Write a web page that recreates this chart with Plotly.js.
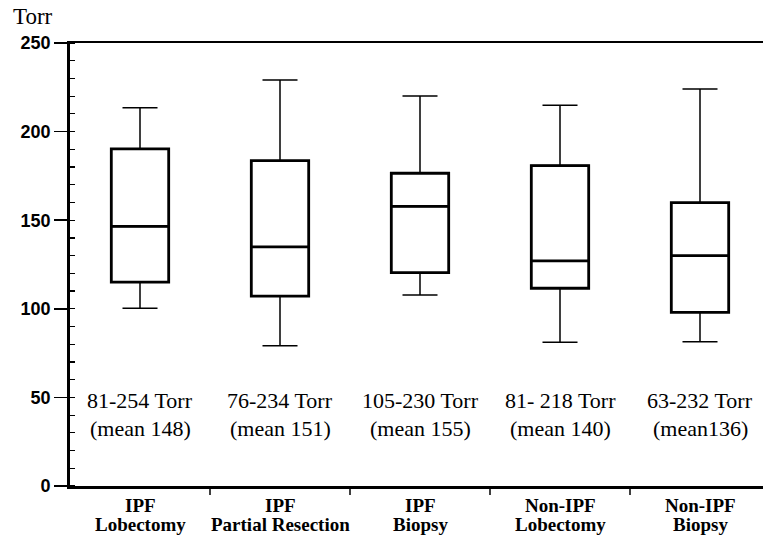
<!DOCTYPE html>
<html>
<head>
<meta charset="utf-8">
<script src="https://cdn.plot.ly/plotly-3.0.1.min.js"></script>
<style>html,body{margin:0;padding:0;background:#fff;}#chart{width:763px;height:536px;}</style>
</head>
<body>
<div id="chart"></div>
<script>
// Data
const categoryLine1 = ["IPF", "IPF", "IPF", "Non-IPF", "Non-IPF"];
const categoryLine2 = ["Lobectomy", "Partial Resection", "Biopsy", "Lobectomy", "Biopsy"];
const lowerWhisker = [100.3, 79.2, 107.8, 81.1, 81.4];
const q1Values     = [115.1, 107.1, 120.4, 111.6, 98.0];
const medianValues = [146.5, 135.0, 157.8, 127.0, 130.0];
const q3Values     = [190.2, 183.6, 176.5, 180.8, 159.9];
const upperWhisker = [213.5, 229.1, 220.1, 214.9, 224.0];
const rangeLabels  = ["81-254 Torr", "76-234 Torr", "105-230 Torr", "81- 218 Torr", "63-232 Torr"];
const meanLabels   = ["(mean 148)", "(mean 151)", "(mean 155)", "(mean 140)", "(mean136)"];
const yTickValues  = [0, 50, 100, 150, 200, 250];

const SERIF = "'Liberation Serif', 'Times New Roman', serif";
const SANS = "'Liberation Sans', Arial, sans-serif";
const xIdx = categoryLine1.map((c, i) => i);

const whiskerTrace = {
  type: 'box', x: xIdx,
  q1: q1Values, median: medianValues, q3: q3Values,
  lowerfence: lowerWhisker, upperfence: upperWhisker,
  width: 0.41, whiskerwidth: 0.61,
  line: {color: '#000', width: 1.5},
  fillcolor: 'rgba(0,0,0,0)',
  hoverinfo: 'skip', boxpoints: false
};
const boxTrace = {
  type: 'box', x: xIdx,
  q1: q1Values, median: medianValues, q3: q3Values,
  lowerfence: q1Values, upperfence: q3Values,
  width: 0.41, whiskerwidth: 0,
  line: {color: '#000', width: 2.8},
  fillcolor: 'rgba(0,0,0,0)',
  hoverinfo: 'skip', boxpoints: false
};

const plotW = 763 - 70, plotH = 536 - 43 - 50;
const annotations = [];
xIdx.forEach((i) => {
  annotations.push({x: i, y: 48.5, xref: 'x', yref: 'y', text: rangeLabels[i], showarrow: false,
    font: {family: SERIF, size: 22, color: '#000'}});
  annotations.push({x: i, y: 32.7, xref: 'x', yref: 'y', text: meanLabels[i], showarrow: false,
    font: {family: SERIF, size: 22, color: '#000'}});
  annotations.push({x: i, y: -19 / plotH, xref: 'x', yref: 'paper', yanchor: 'middle',
    text: '<b>' + categoryLine1[i] + '</b>', showarrow: false,
    font: {family: SERIF, size: 19, color: '#000'}});
  annotations.push({x: i, y: -38 / plotH, xref: 'x', yref: 'paper', yanchor: 'middle',
    text: '<b>' + categoryLine2[i] + '</b>', showarrow: false,
    font: {family: SERIF, size: 19, color: '#000'}});
});
annotations.push({x: (11 - 70) / plotW, y: (536 - 50 - 17) / plotH, xref: 'paper', yref: 'paper',
  text: 'Torr', showarrow: false, xanchor: 'left', yanchor: 'middle',
  font: {family: SERIF, size: 23, color: '#000'}});

const layout = {
  width: 763, height: 536,
  margin: {l: 70, r: 0, t: 43, b: 50, pad: 0},
  paper_bgcolor: '#fff', plot_bgcolor: '#fff',
  showlegend: false,
  boxmode: 'overlay',
  xaxis: {
    type: 'linear', range: [-0.5, 4.45],
    showticklabels: false,
    ticks: '', showgrid: false, zeroline: false,
    showline: true, linecolor: '#000', linewidth: 2.5, mirror: true,
    fixedrange: true
  },
  yaxis: {
    range: [0, 250], tickmode: 'array', tickvals: yTickValues,
    ticks: 'outside', ticklen: 13, tickwidth: 1.5, tickcolor: '#000',
    minor: {dtick: 10, tick0: 0, ticks: 'inside', ticklen: 5, tickwidth: 1.2, tickcolor: '#000', showgrid: false},
    showgrid: false, zeroline: false,
    showline: true, linecolor: '#000', linewidth: 2.8,
    tickfont: {family: SANS, size: 18, color: '#000', weight: 'bold'},
    ticklabelstandoff: 0,
    fixedrange: true
  },
  shapes: [],
  annotations: annotations
};

// category boundary ticks below the x axis
for (let b = 0; b < xIdx.length; b++) {
  layout.shapes.push({type: 'line', xref: 'x', yref: 'paper', x0: b + 0.5, x1: b + 0.5, y0: 0, y1: -9 / plotH,
    line: {color: '#000', width: 1.5}});
}

Plotly.newPlot('chart', [whiskerTrace, boxTrace], layout, {staticPlot: true});
</script>
</body>
</html>
